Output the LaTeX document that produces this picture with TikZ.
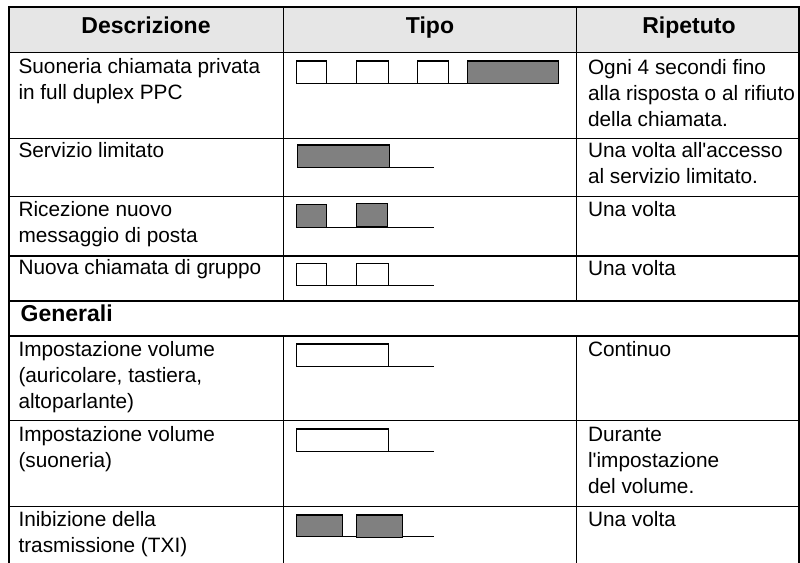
\documentclass[tikz,border=0pt]{standalone}
\usepackage{fontspec}
\setmainfont{Liberation Sans}[Ligatures=TeXOff]
\definecolor{hdrgray}{HTML}{E6E6E6}
\definecolor{pulsegray}{HTML}{808080}
\tikzset{
  gridline/.style={line width=1.5pt, black, line cap=rect},
  wave/.style={line width=1.5pt, black},
  pulseopen/.style={wave, fill=white},
  pulsefull/.style={wave, fill=pulsegray},
  body/.style={anchor=north west, inner sep=0pt, outer sep=0pt, align=left,
    font=\fontsize{20.8}{26}\selectfont},
  head/.style={anchor=base, inner sep=0pt, font=\bfseries\fontsize{23}{27}\selectfont},
}
\begin{document}
\begin{tikzpicture}[x=1pt,y=-1pt]
\useasboundingbox (0,0) rectangle (800,562);
% header background
\fill[hdrgray] (9,7) rectangle (799,52.7);
% grid
\draw[gridline] (9,562) -- (9,7) -- (799,7) -- (799,562);
\foreach \yy in {52.7,138.3,196.7,256,301,336,420.7,506.7}
  \draw[gridline] (9,\yy) -- (799,\yy);
\foreach \xx in {283.3,576.7}{
  \draw[gridline] (\xx,7) -- (\xx,301);
  \draw[gridline] (\xx,336) -- (\xx,562);
}
% header text
\node[head] (hdesc) at (146,33) {Descrizione};
\node[head] (htipo) at (430,33) {Tipo};
\node[head] (hrip) at (689,33) {Ripetuto};
% row 1
\node[body] (d1) at (18.5,54.8) {\strut Suoneria chiamata privata\\in full duplex PPC};
\node[body] (r1) at (588,55.8) {\strut Ogni 4 secondi fino\\alla risposta o al rifiuto\\della chiamata.};
\draw[wave] (296.7,83.3) -- (467.3,83.3);
\draw[pulseopen] (296.7,83.3) rectangle (326.7,61);
\draw[pulseopen] (356.7,83.3) rectangle (388.3,61);
\draw[pulseopen] (417.7,83.3) rectangle (448.3,61);
\draw[pulsefull] (467.3,83.3) rectangle (558.3,61);
% row 2
\node[body] (d2) at (18.5,138.8) {\strut Servizio limitato};
\node[body] (r2) at (588,138.8) {\strut Una volta all'accesso\\al servizio limitato.};
\draw[wave] (389.3,167.7) -- (434.3,167.7);
\draw[pulsefull] (297.7,167.7) rectangle (389.3,145);
% row 3
\node[body] (d3) at (18.5,197.8) {\strut Ricezione nuovo\\messaggio di posta};
\node[body] (r3) at (588,197.8) {\strut Una volta};
\draw[wave] (296.7,227.7) -- (434.3,227.7);
\draw[pulsefull] (296.7,227.7) rectangle (326.7,204.3);
\draw[pulsefull] (356.7,227.2) rectangle (387.3,203.5);
% row 4
\node[body] (d4) at (18.5,256.3) {\strut Nuova chiamata di gruppo};
\node[body] (r4) at (588,256.8) {\strut Una volta};
\draw[wave] (296.7,285.7) -- (434.3,285.7);
\draw[pulseopen] (296.7,285.7) rectangle (326.7,263.3);
\draw[pulseopen] (356.7,285.7) rectangle (388.3,263.3);
% Generali
\node[anchor=base west, inner sep=0pt, font=\bfseries\fontsize{23}{27}\selectfont] (gen) at (20.5,321.7) {Generali};
% row 5
\node[body] (d5) at (18.5,337.8) {\strut Impostazione volume\\(auricolare, tastiera,\\altoparlante)};
\node[body] (r5) at (588,337.8) {\strut Continuo};
\draw[wave] (296.7,366.7) -- (434.3,366.7);
\draw[pulseopen] (296.7,366.7) rectangle (388.3,344);
% row 6
\node[body] (d6) at (18.5,422.8) {\strut Impostazione volume\\(suoneria)};
\node[body] (r6) at (588,422.8) {\strut Durante\\l'impostazione\\del volume.};
\draw[wave] (296.7,451.7) -- (434.3,451.7);
\draw[pulseopen] (296.7,451.7) rectangle (388.3,429);
% row 7
\node[body] (d7) at (18.5,508.3) {\strut Inibizione della\\trasmissione (TXI)};
\node[body] (r7) at (588,507.8) {\strut Una volta};
\draw[wave] (296.7,536.7) -- (434.3,536.7);
\draw[pulsefull] (296.7,536.7) rectangle (342.3,515);
\draw[pulsefull] (356.7,537.7) rectangle (402.3,515);
\end{tikzpicture}
\end{document}
